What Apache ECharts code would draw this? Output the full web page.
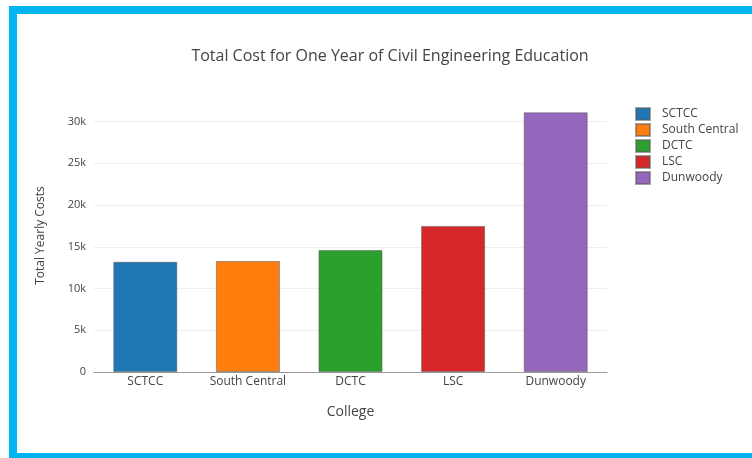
<!DOCTYPE html>
<html>
<head>
<meta charset="utf-8">
<script src="https://cdn.jsdelivr.net/npm/echarts@6/dist/echarts.min.js"></script>
<style>
html,body{margin:0;padding:0;background:#fff;width:752px;height:458px;overflow:hidden;}
#frame{position:absolute;left:9px;top:6px;width:800px;height:439px;border-left:8px solid #00b4f0;border-top:8px solid #00b4f0;border-bottom:8px solid #00b4f0;}
#chart{position:absolute;left:0;top:0;width:752px;height:458px;}
</style>
</head>
<body>
<div id="frame"></div>
<div id="chart"></div>
<script>
const titleText = "Total Cost for One Year of Civil Engineering Education";
const categories = ["SCTCC", "South Central", "DCTC", "LSC", "Dunwoody"];
const values = [13200, 13300, 14600, 17500, 31100];
const colors = ["#1f77b4", "#ff7f0e", "#2ca02c", "#d62728", "#9467bd"];
const yTicks = [0, 5000, 10000, 15000, 20000, 25000, 30000];
const xTitle = "College";
const yTitle = "Total Yearly Costs";

const chart = echarts.init(document.getElementById('chart'));
const series = categories.map((c, i) => ({
  name: c,
  type: 'bar',
  stack: 'all',
  barWidth: 64,
  data: categories.map((cc, j) => j === i ? values[i] : null),
  itemStyle: {color: colors[i], borderColor: 'rgba(90,90,90,0.55)', borderWidth: 1},
  emphasis: {disabled: true}
}));
chart.setOption({
  animation: false,
  textStyle: {fontFamily: 'Open Sans'},
  title: {
    text: titleText, left: 385, top: 43, textAlign: 'center',
    textStyle: {fontSize: 16, fontWeight: 'normal', color: '#444', fontFamily: 'Open Sans'}
  },
  legend: {
    orient: 'vertical', left: 630, top: 102, itemWidth: 14, itemHeight: 12, itemGap: 2,
    icon: 'rect',
    textStyle: {fontSize: 12, lineHeight: 12, color: '#444', fontFamily: 'Open Sans', padding: [0, 0, 0, 7]},
    data: categories
  },
  grid: {left: 94, right: 145, top: 99, bottom: 86, containLabel: false},
  xAxis: {
    type: 'category', data: categories,
    name: xTitle, nameLocation: 'middle', nameGap: 33,
    nameTextStyle: {fontSize: 14, color: '#444'},
    axisLine: {lineStyle: {color: '#999'}},
    axisTick: {show: false},
    axisLabel: {fontSize: 12, color: '#444', margin: 4}
  },
  yAxis: {
    type: 'value', min: 0, max: 32700, interval: 5000,
    name: yTitle, nameLocation: 'middle', nameGap: 47,
    nameTextStyle: {fontSize: 12, color: '#444'},
    axisLine: {show: false}, axisTick: {show: false},
    splitLine: {lineStyle: {color: '#eee'}, showMaxLine: false},
    axisLabel: {fontSize: 11, color: '#444', margin: 8, showMaxLabel: false,
      formatter: v => yTicks.includes(v) ? (v === 0 ? '0' : (v/1000) + 'k') : ''}
  },
  series: series
});
</script>
</body>
</html>
